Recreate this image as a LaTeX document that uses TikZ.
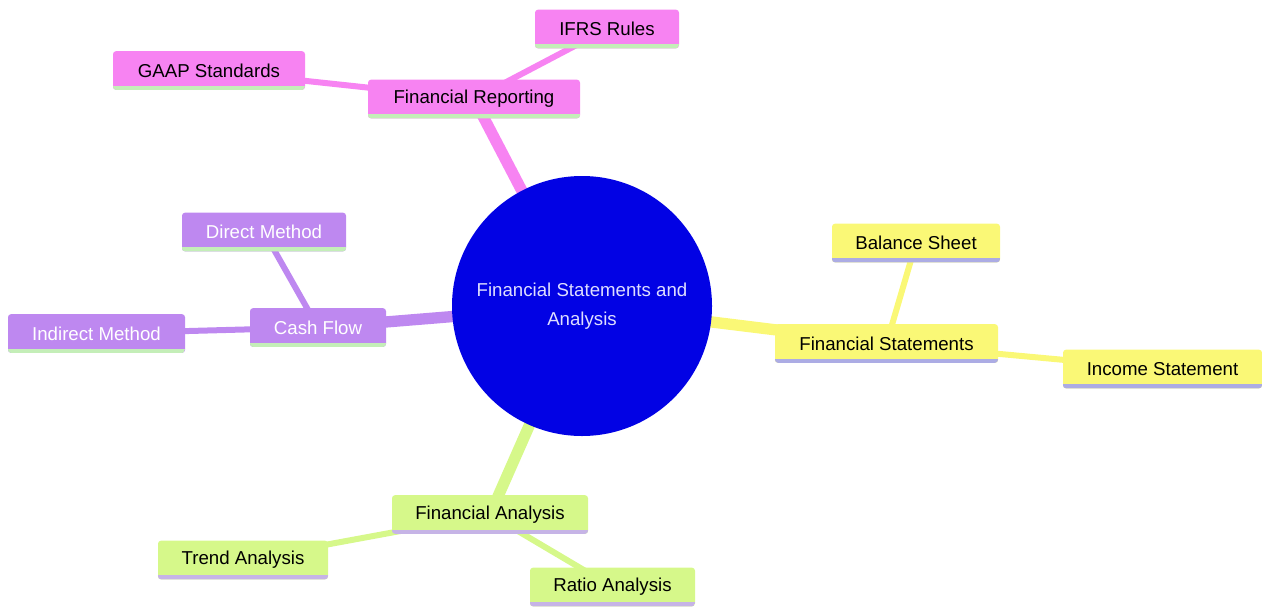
\documentclass[tikz,border=0pt]{standalone}
\usepackage{fontspec}
\setmainfont{Liberation Sans}
\usetikzlibrary{backgrounds}

\definecolor{rootblue}{RGB}{2,2,228}
\definecolor{roottext}{RGB}{222,222,255}
\definecolor{pinkfill}{RGB}{247,131,242}
\definecolor{purplefill}{RGB}{190,136,240}
\definecolor{yellowfill}{RGB}{250,248,118}
\definecolor{greenfill}{RGB}{214,248,138}
\definecolor{mintline}{RGB}{196,238,184}
\definecolor{lavline}{RGB}{172,172,228}
\definecolor{lilacline}{RGB}{198,180,230}

\tikzset{every picture/.style={line width=0.75pt}}

\begin{document}
\begin{tikzpicture}[x=0.75pt,y=0.75pt,yscale=-1,xscale=1,
  mmbox/.style={rounded corners=2.25pt, inner sep=0pt, minimum height=29pt,
    font=\fontsize{14}{17}\selectfont},
  boxw/.style={minimum width=#1*0.75pt},
  uline/.style={path picture={\draw[#1, line width=6pt]
    (path picture bounding box.south west) -- (path picture bounding box.south east);}},
  pinkbox/.style={mmbox, fill=pinkfill, text=black, uline=mintline},
  purplebox/.style={mmbox, fill=purplefill, text=white, uline=mintline},
  yellowbox/.style={mmbox, fill=yellowfill, text=black, uline=lavline},
  greenbox/.style={mmbox, fill=greenfill, text=black, uline=lilacline},
  mainedge/.style={line width=8.5pt},
  subedge/.style={line width=4.5pt}]
\useasboundingbox (0,0) rectangle (1262,607);

% Root
\node (root) at (582,306) [circle, fill=rootblue, text=roottext, minimum size=195pt,
  inner sep=0pt, align=center, font=\fontsize{14}{21.5}\selectfont]
  {Financial Statements and\\Analysis};

% Financial Reporting
\node (frep) at (474,99) [pinkbox, boxw=212] {Financial Reporting};
\node (ifrs) at (607,29) [pinkbox, boxw=144] {IFRS Rules};
\node (gaap) at (209,70.5) [pinkbox, boxw=192] {GAAP Standards};

% Cash Flow
\node (cash) at (318,327.5) [purplebox, boxw=136] {Cash Flow};
\node (direct) at (264,232) [purplebox, boxw=164] {Direct Method};
\node (indirect) at (96.5,333.5) [purplebox, boxw=177] {Indirect Method};

% Financial Statements
\node (fstat) at (886.5,343.5) [yellowbox, boxw=223] {Financial Statements};
\node (balance) at (916,243) [yellowbox, boxw=168] {Balance Sheet};
\node (income) at (1162.5,369) [yellowbox, boxw=199] {Income Statement};

% Financial Analysis
\node (fanal) at (490,514.5) [greenbox, boxw=196] {Financial Analysis};
\node (trend) at (243,560) [greenbox, boxw=170] {Trend Analysis};
\node (ratio) at (612.5,587) [greenbox, boxw=165] {Ratio Analysis};

% Edges
\begin{scope}[on background layer]
\draw[mainedge, pinkfill] (root.center) -- (frep.center);
\draw[subedge, pinkfill] (frep.center) -- (ifrs.center);
\draw[subedge, pinkfill] (frep.center) -- (gaap.center);
\draw[mainedge, purplefill] (root.center) -- (cash.center);
\draw[subedge, purplefill] (cash.center) -- (direct.center);
\draw[subedge, purplefill] (cash.center) -- (indirect.center);
\draw[mainedge, yellowfill] (root.center) -- (fstat.center);
\draw[subedge, yellowfill] (fstat.center) -- (balance.center);
\draw[subedge, yellowfill] (fstat.center) -- (income.center);
\draw[mainedge, greenfill] (root.center) -- (fanal.center);
\draw[subedge, greenfill] (fanal.center) -- (trend.center);
\draw[subedge, greenfill] (fanal.center) -- (ratio.center);
\end{scope}

\end{tikzpicture}
\end{document}
